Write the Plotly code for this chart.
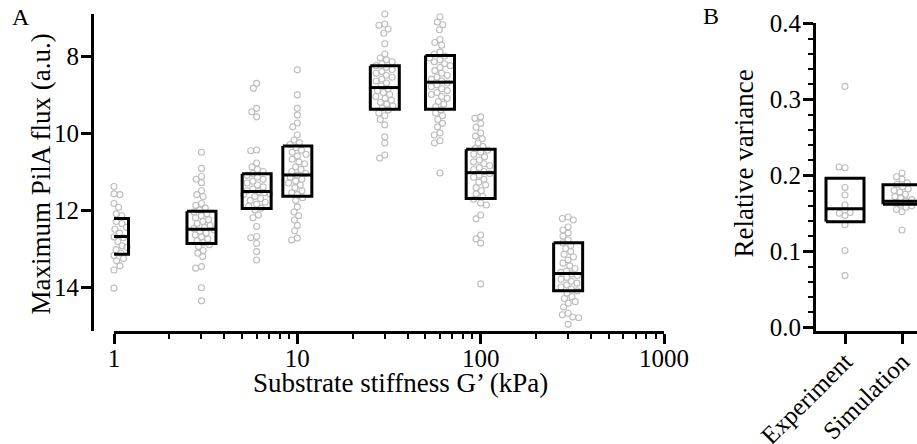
import math
import numpy as np
import plotly.graph_objects as go

# ---------------- Data ----------------
stiffness = [1, 3, 6, 10, 30, 60, 100, 300]

flux_g1 = [11.39, 11.58, 11.58, 11.60, 11.62, 11.83, 11.86, 11.93, 11.98, 12.05, 12.10, 12.15,
           12.20, 12.25, 12.30, 12.35, 12.38, 12.42, 12.45, 12.50, 12.55, 12.60, 12.65, 12.70,
           12.72, 12.78, 12.82, 12.86, 12.90, 12.93, 12.97, 13.00, 13.03, 13.08, 13.12, 13.18,
           13.22, 13.26, 13.32, 13.40, 13.45, 13.56, 13.58, 14.03, 14.12]
flux_g2 = [10.50, 10.92, 11.13, 11.20, 11.29, 11.50, 11.60, 11.65, 11.83, 11.88, 11.95, 12.00,
           12.05, 12.10, 12.15, 12.20, 12.25, 12.30, 12.35, 12.40, 12.45, 12.48, 12.52, 12.55,
           12.60, 12.65, 12.70, 12.75, 12.80, 12.85, 12.90, 12.95, 13.05, 13.12, 13.21, 13.47,
           13.51, 14.02, 14.36]
flux_g3 = [8.71, 8.84, 9.36, 9.45, 9.58, 10.44, 10.46, 10.78, 10.88, 10.95, 11.00, 11.05,
           11.10, 11.15, 11.20, 11.25, 11.30, 11.35, 11.40, 11.45, 11.50, 11.52, 11.55, 11.58,
           11.60, 11.65, 11.70, 11.75, 11.80, 11.85, 11.90, 11.95, 12.00, 12.13, 12.20, 12.43,
           12.69, 12.72, 12.87, 13.08, 13.30]
flux_g4 = [8.36, 9.01, 9.36, 9.53, 9.74, 9.84, 10.05, 10.18, 10.25, 10.30, 10.38, 10.45,
           10.50, 10.55, 10.60, 10.68, 10.75, 10.80, 10.88, 10.95, 11.00, 11.05, 11.10, 11.15,
           11.20, 11.25, 11.30, 11.35, 11.42, 11.50, 11.55, 11.60, 11.68, 11.75, 11.92, 12.05,
           12.15, 12.26, 12.40, 12.54, 12.73, 12.78]
flux_g5 = [6.91, 7.17, 7.20, 7.30, 7.41, 7.68, 7.95, 8.05, 8.10, 8.15, 8.20, 8.25, 8.30,
           8.35, 8.40, 8.45, 8.50, 8.55, 8.60, 8.65, 8.70, 8.78, 8.85, 8.90, 8.95, 9.00, 9.05,
           9.10, 9.15, 9.20, 9.25, 9.30, 9.35, 9.40, 9.48, 9.55, 9.65, 9.79, 10.10, 10.26,
           10.57, 10.65]
flux_g6 = [6.98, 7.12, 7.19, 7.32, 7.57, 7.65, 7.72, 7.90, 7.95, 8.00, 8.05, 8.10, 8.15,
           8.20, 8.25, 8.30, 8.38, 8.45, 8.50, 8.55, 8.60, 8.65, 8.70, 8.75, 8.80, 8.85, 8.90,
           8.95, 9.00, 9.05, 9.10, 9.18, 9.25, 9.32, 9.40, 9.48, 9.55, 9.65, 9.75, 9.84, 10.00,
           10.05, 10.20, 10.26, 11.04]
flux_g7 = [9.58, 9.62, 9.75, 9.85, 10.00, 10.08, 10.15, 10.26, 10.35, 10.40, 10.45, 10.50,
           10.55, 10.62, 10.70, 10.75, 10.80, 10.85, 10.90, 10.95, 11.00, 11.05, 11.10, 11.15,
           11.20, 11.28, 11.35, 11.42, 11.50, 11.58, 11.65, 11.72, 11.82, 11.87, 12.13, 12.23,
           12.65, 12.75, 12.86, 13.92]
flux_g8 = [12.18, 12.22, 12.26, 12.44, 12.52, 12.60, 12.68, 12.78, 12.85, 12.92, 13.00, 13.08,
           13.15, 13.22, 13.30, 13.38, 13.45, 13.52, 13.58, 13.62, 13.66, 13.70, 13.75, 13.80,
           13.85, 13.90, 13.95, 14.00, 14.05, 14.10, 14.16, 14.25, 14.30, 14.38, 14.42, 14.52,
           14.68, 14.72, 14.78, 14.80, 14.97]
flux_groups = [flux_g1, flux_g2, flux_g3, flux_g4, flux_g5, flux_g6, flux_g7, flux_g8]

flux_q1 = [12.22, 12.03, 11.06, 10.34, 8.25, 7.99, 10.42, 12.85]
flux_median = [12.69, 12.50, 11.52, 11.09, 8.82, 8.68, 11.03, 13.65]
flux_q3 = [13.15, 12.87, 11.96, 11.64, 9.38, 9.38, 11.70, 14.10]

x_ticks_A = [1, 10, 100, 1000]
y_ticks_A = [8, 10, 12, 14]

methods = ["Experiment", "Simulation"]
var_experiment = [0.068, 0.101, 0.135, 0.147, 0.150, 0.151, 0.161, 0.174, 0.184, 0.210, 0.211, 0.317]
var_simulation = [0.128, 0.152, 0.155, 0.158, 0.160, 0.162, 0.164, 0.166, 0.168, 0.170, 0.172,
                  0.175, 0.178, 0.180, 0.182, 0.185, 0.188, 0.190, 0.195, 0.198, 0.203]
var_groups = [var_experiment, var_simulation]
var_q1 = [0.139, 0.162]
var_median = [0.156, 0.166]
var_q3 = [0.196, 0.1877]
y_ticks_B = [0.0, 0.1, 0.2, 0.3, 0.4]

# ---------------- Styling / layout helpers ----------------
FONT = "Liberation Serif, Times New Roman, serif"
PT_COLOR = "#bdbdbd"
W, H = 917, 444


def swarm(vals, px_per_unit, d=6.0, maxw=13.0):
    """Deterministic beeswarm offsets (pixels) for values."""
    order = np.argsort(vals)
    placed = []
    offs = [0.0] * len(vals)
    for i in order:
        y = vals[i] * px_per_unit
        near = [(px, py) for px, py in placed if abs(py - y) < d]
        cands = [0.0]
        for px, py in near:
            h = math.sqrt(max(d * d - (py - y) ** 2, 0))
            cands += [px - h, px + h]
        cands.sort(key=abs)
        chosen = cands[0]
        for c in cands:
            if all((c - px) ** 2 + (y - py) ** 2 >= d * d - 1e-6 for px, py in near):
                chosen = c
                break
        chosen = max(-maxw, min(maxw, chosen))
        offs[i] = chosen
        placed.append((chosen, y))
    return offs


marker_style = dict(symbol="circle-open", size=6, color=PT_COLOR,
                    line=dict(width=1.1, color=PT_COLOR))

fig = go.Figure()

# Panel A geometry (pixels)
A_x0, A_x1 = 114, 664
A_top, A_bot = 14, 331
decade_px = (A_x1 - A_x0) / 3.0
y_px_per_unit = 38.5
yA_range = [8 + (A_bot - 56) / y_px_per_unit, 8 - (56 - A_top) / y_px_per_unit]

# points A
for xc, vals in zip(stiffness, flux_groups):
    offs = swarm(vals, y_px_per_unit)
    xs = [xc * 10 ** (o / decade_px) for o in offs]
    fig.add_trace(go.Scatter(x=xs, y=vals, mode="markers", xaxis="x", yaxis="y",
                             marker=marker_style, showlegend=False, hoverinfo="skip",
                             cliponaxis=False))

# boxes A
hw = 14.5 / decade_px
bx, by = [], []
for xc, q1, md, q3 in zip(stiffness, flux_q1, flux_median, flux_q3):
    xl, xr = xc * 10 ** (-hw), xc * 10 ** hw
    bx += [xl, xr, xr, xl, xl, None, xl, xr, None]
    by += [q1, q1, q3, q3, q1, None, md, md, None]
fig.add_trace(go.Scatter(x=bx, y=by, mode="lines", xaxis="x", yaxis="y",
                         line=dict(color="black", width=3), showlegend=False, hoverinfo="skip"))

# Panel B geometry
B_x0 = 816
cat_px = 57.0
B_top = 23.3
y2_px_per_unit = 760.0
for ci, vals in enumerate(var_groups):
    offs = swarm(vals, y2_px_per_unit, d=6.0, maxw=11.0)
    xs = [ci + o / cat_px for o in offs]
    fig.add_trace(go.Scatter(x=xs, y=vals, mode="markers", xaxis="x2", yaxis="y2",
                             marker=marker_style, showlegend=False, hoverinfo="skip"))
bhw = 19.0 / cat_px
bx, by = [], []
for ci, (q1, md, q3) in enumerate(zip(var_q1, var_median, var_q3)):
    xl, xr = ci - bhw, ci + bhw
    bx += [xl, xr, xr, xl, xl, None, xl, xr, None]
    by += [q1, q1, q3, q3, q1, None, md, md, None]
fig.add_trace(go.Scatter(x=bx, y=by, mode="lines", xaxis="x2", yaxis="y2",
                         line=dict(color="black", width=3), showlegend=False, hoverinfo="skip"))

ydom = [1 - A_bot / H, 1 - A_top / H]
y2dom = [1 - A_bot / H, 1 - B_top / H]
x2_range = [-(845 - B_x0) / cat_px, 1 + (W - 902) / cat_px]
y2_range = [-(A_bot - 327.3) / y2_px_per_unit, 0.4]

axis_common = dict(showgrid=False, zeroline=False, showline=True, linecolor="black",
                   linewidth=3, ticks="outside", tickcolor="black", tickwidth=2.5,
                   automargin=False,
                   tickfont=dict(family=FONT, size=25, color="black"))

minor_log = [m * 10 ** k for k in range(3) for m in range(2, 10)]

fig.update_layout(
    width=W, height=H, margin=dict(l=0, r=0, t=0, b=0, pad=0, autoexpand=False),
    paper_bgcolor="white", plot_bgcolor="white",
    font=dict(family=FONT, color="black"),
    xaxis=dict(type="log", domain=[A_x0 / W, A_x1 / W], range=[0, 3], anchor="y",
               tickmode="array", tickvals=x_ticks_A, ticktext=[str(v) for v in x_ticks_A],
               ticklen=10, ticklabelstandoff=-7,
               minor=dict(tickmode="array", tickvals=minor_log, ticks="outside", ticklen=5,
                          tickwidth=2, tickcolor="black", showgrid=False),
               **axis_common),
    yaxis=dict(domain=ydom, range=yA_range, anchor="free", position=92 / W,
               tickmode="array", tickvals=y_ticks_A, ticklen=10, ticklabelstandoff=-3,
               **axis_common),
    xaxis2=dict(type="linear", domain=[B_x0 / W, 1.0], range=x2_range, anchor="y2",
                tickmode="array", tickvals=[0, 1], ticktext=methods, tickangle=-45,
                ticklen=10, ticklabelstandoff=-7, **axis_common),
    yaxis2=dict(domain=y2dom, range=y2_range, anchor="x2",
                tickmode="array", tickvals=y_ticks_B,
                ticktext=[f"{v:.1f}" for v in y_ticks_B], ticklen=10, ticklabelstandoff=-3,
                minor=dict(dtick=0.02, tick0=0, ticks="outside", ticklen=5, tickwidth=2,
                           tickcolor="black", showgrid=False),
                **axis_common),
)

title_font = dict(family=FONT, size=27, color="black")
fig.add_annotation(text="Substrate stiffness G’ (kPa)", xref="paper", yref="paper",
                   x=400 / W, y=1 - 383 / H, xanchor="center", yanchor="middle",
                   showarrow=False, font=title_font)
fig.add_annotation(text="Maximum PilA flux (a.u.)", xref="paper", yref="paper",
                   x=40 / W, y=1 - 174.5 / H, xanchor="center", yanchor="middle",
                   textangle=-90, showarrow=False, font=title_font)
fig.add_annotation(text="Relative variance", xref="paper", yref="paper",
                   x=744 / W, y=1 - 163.5 / H, xanchor="center", yanchor="middle",
                   textangle=-90, showarrow=False, font=title_font)
fig.add_annotation(text="A", xref="paper", yref="paper", x=10 / W, y=1 - 2 / H,
                   xanchor="left", yanchor="top", showarrow=False,
                   font=dict(family=FONT, size=24, color="black"))
fig.add_annotation(text="B", xref="paper", yref="paper", x=701 / W, y=1 - 1 / H,
                   xanchor="left", yanchor="top", showarrow=False,
                   font=dict(family=FONT, size=24, color="black"))

fig.write_html("out.html")
